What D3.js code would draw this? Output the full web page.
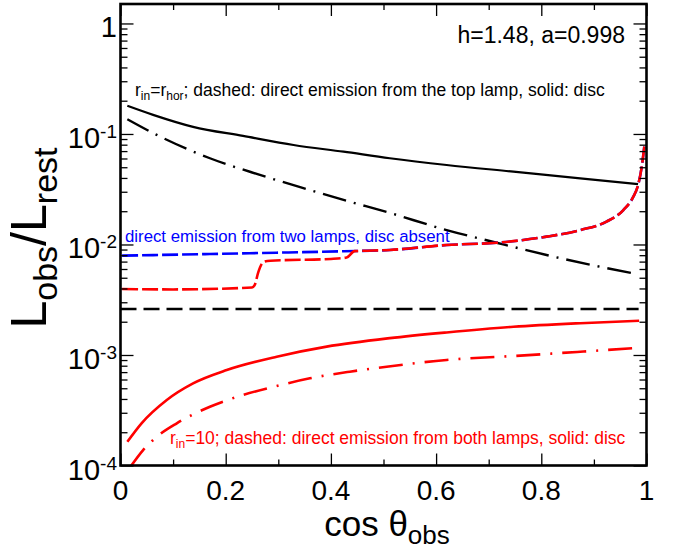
<!DOCTYPE html>
<html><head><meta charset="utf-8">
<script src="https://cdn.jsdelivr.net/npm/d3@7"></script>
<style>body{margin:0;background:#fff} svg{display:block} text{font-family:"Liberation Sans",Arial,Helvetica,sans-serif}</style>
</head><body><svg id="c" width="674" height="550"></svg>
<script>
// ---- data ----
const xTickValues = [0, 0.2, 0.4, 0.6, 0.8, 1];
const xTickLabels = ["0", "0.2", "0.4", "0.6", "0.8", "1"];
const yTickValues = [1, 1e-1, 1e-2, 1e-3, 1e-4];
const yTickExps = ["", "-1", "-2", "-3", "-4"];

// r_in = r_hor, disc (black solid)
const discHorX = [0.013,0.062,0.138,0.233,0.329,0.424,0.512,0.620,0.747,0.874,0.984];
const discHorY = [0.180,0.149,0.116,0.096,0.0795,0.0691,0.0603,0.0524,0.0456,0.0397,0.0351];
// r_in = r_hor, direct emission from the top lamp (black dash-dot)
const directTopX = [0.013,0.069,0.170,0.265,0.360,0.424,0.512,0.620,0.715,0.810,0.905,0.975];
const directTopY = [0.136,0.098,0.0603,0.0426,0.0311,0.0253,0.0193,0.0135,0.01037,0.00803,0.00638,0.00548];
// black long-dashed level
const levelX = [0.0, 0.985];
const levelY = [0.00261, 0.00261];
// direct emission from two lamps, disc absent (blue dashed)
const twoLampsX = [0.003,0.170,0.297,0.424,0.512,0.620,0.715,0.810,0.874,0.924,0.956,0.975,0.984,0.991,0.996];
const twoLampsY = [0.00792,0.00820,0.00843,0.00868,0.00892,0.00989,0.01037,0.01177,0.0135,0.0161,0.0205,0.0271,0.0345,0.0506,0.0778];
// r_in = 10, direct emission from both lamps (red dashed)
const bothLampsX = [0.003,0.10,0.25,0.255,0.262,0.272,0.285,0.40,0.43,0.445,0.512,0.620,0.715,0.810,0.874,0.924,0.956,0.975,0.984,0.991,0.996];
const bothLampsY = [0.00395,0.00392,0.00408,0.00428,0.00563,0.00695,0.00713,0.00740,0.00762,0.0087,0.00892,0.00989,0.01037,0.01177,0.0135,0.0161,0.0205,0.0271,0.0345,0.0506,0.0778];
// r_in = 10, disc (red solid)
const disc10X = [0.013,0.040,0.088,0.138,0.202,0.297,0.392,0.512,0.620,0.747,0.874,0.986];
const disc10Y = [0.000164,0.000241,0.000392,0.000554,0.000731,0.000965,0.00119,0.00142,0.00160,0.00180,0.00194,0.00204];
// r_in = 10, red dash-dot
const dd10X = [0.018,0.043,0.069,0.107,0.170,0.233,0.297,0.360,0.436,0.506,0.620,0.747,0.874,0.984];
const dd10Y = [0.000096,0.000138,0.000182,0.000241,0.000340,0.000435,0.000524,0.000615,0.000706,0.000783,0.000902,0.000979,0.00107,0.00116];

// ---- chart ----
const L = 120.5, R = 646.5, T = 4, B = 465.5;
const svg = d3.select("#c");
const x = d3.scaleLinear().domain([0, 1]).range([L, R]);
const y = d3.scaleLog().domain([1e-4, 1.5]).range([B, T]);

svg.append("defs").append("clipPath").attr("id", "clip")
  .append("rect").attr("x", L).attr("y", T).attr("width", R - L).attr("height", B - T);

const zip = (xs, ys) => xs.map((v, i) => [v, ys[i]]);
const line = d3.line().x(d => x(d[0])).y(d => y(d[1])).curve(d3.curveMonotoneX);
const g = svg.append("g").attr("clip-path", "url(#clip)");
function draw(xs, ys, color, w, dash) {
  g.append("path").datum(zip(xs, ys)).attr("d", line)
    .attr("fill", "none").attr("stroke", color).attr("stroke-width", w)
    .attr("stroke-dasharray", dash || null);
}
draw(levelX, levelY, "#000", 2.4, "16,7");
draw(directTopX, directTopY, "#000", 2.4, "24,8,2,8");
draw(discHorX, discHorY, "#000", 2.2, null);
draw(twoLampsX, twoLampsY, "#0000ff", 2.6, "16,4");
draw(bothLampsX, bothLampsY, "#ff0000", 2.6, "16,4");
draw(disc10X, disc10Y, "#ff0000", 2.6, null);
draw(dd10X, dd10Y, "#ff0000", 2.6, "24,10,2,10");

// axes (ticks inside, mirrored)
const xMinor = d3.range(1, 10, 2).map(i => i / 10);
const yMinor = [];
for (let e = -4; e <= 0; e++) for (let k = 2; k <= 9; k++) { const v = k * Math.pow(10, e); if (v < 1.5) yMinor.push(v); }
function ax(axisFn, scale, vals, size, tr) {
  const a = svg.append("g").attr("transform", tr)
    .call(axisFn(scale).tickValues(vals).tickSize(size).tickSizeOuter(0).tickFormat(""));
  a.select(".domain").remove();
  a.selectAll("line").attr("stroke", "#000").attr("stroke-width", 1.3);
}
ax(d3.axisBottom, x, xTickValues, -12, `translate(0,${B})`);
ax(d3.axisBottom, x, xMinor, -6, `translate(0,${B})`);
ax(d3.axisTop, x, xTickValues, -12, `translate(0,${T})`);
ax(d3.axisTop, x, xMinor, -6, `translate(0,${T})`);
ax(d3.axisLeft, y, yTickValues, -13, `translate(${L},0)`);
ax(d3.axisLeft, y, yMinor, -7, `translate(${L},0)`);
ax(d3.axisRight, y, yTickValues, -13, `translate(${R},0)`);
ax(d3.axisRight, y, yMinor, -7, `translate(${R},0)`);

svg.append("rect").attr("x", L).attr("y", T).attr("width", R - L).attr("height", B - T)
  .attr("fill", "none").attr("stroke", "#000").attr("stroke-width", 2.6);

// tick labels
xTickValues.forEach((v, i) => {
  svg.append("text").attr("x", x(v)).attr("y", 500).attr("text-anchor", "middle")
    .attr("font-size", 28).text(xTickLabels[i]);
});
yTickValues.forEach((v, i) => {
  const t = svg.append("text").attr("x", 117).attr("y", y(v) + 14).attr("text-anchor", "end").attr("font-size", 29);
  if (yTickExps[i] === "") { t.text("1"); }
  else {
    t.append("tspan").text("10");
    t.append("tspan").attr("dy", -10).attr("font-size", 19).text(yTickExps[i]);
  }
});

// axis titles
const xt = svg.append("text").attr("x", 387).attr("y", 536).attr("text-anchor", "middle").attr("font-size", 35);
xt.append("tspan").text("cos \u03b8");
xt.append("tspan").attr("dy", 8).attr("font-size", 26).text("obs");

const yt = svg.append("text").attr("transform", "translate(46,238) rotate(-90)")
  .attr("text-anchor", "middle").attr("font-size", 50);
yt.append("tspan").text("L");
yt.append("tspan").attr("dy", 11).attr("font-size", 34).text("obs");
yt.append("tspan").attr("dy", -11).text("/L");
yt.append("tspan").attr("dy", 11).attr("font-size", 34).text("rest");

// annotations
svg.append("text").attr("x", 625).attr("y", 43).attr("text-anchor", "end").attr("font-size", 23)
  .text("h=1.48, a=0.998");

const a1 = svg.append("text").attr("x", 135).attr("y", 96).attr("font-size", 17.5).attr("fill", "#000");
a1.append("tspan").text("r");
a1.append("tspan").attr("dy", 4).attr("font-size", 12).text("in");
a1.append("tspan").attr("dy", -4).text("=r");
a1.append("tspan").attr("dy", 4).attr("font-size", 12).text("hor");
a1.append("tspan").attr("dy", -4).text("; dashed: direct emission from the top lamp, solid: disc");

svg.append("text").attr("x", 125).attr("y", 242).attr("font-size", 16.8).attr("fill", "#0000ff")
  .text("direct emission from two lamps, disc absent");

const a3 = svg.append("text").attr("x", 170).attr("y", 444).attr("font-size", 17.5).attr("fill", "#ff0000");
a3.append("tspan").text("r");
a3.append("tspan").attr("dy", 4).attr("font-size", 12).text("in");
a3.append("tspan").attr("dy", -4).text("=10; dashed: direct emission from both lamps, solid: disc");
</script></body></html>
